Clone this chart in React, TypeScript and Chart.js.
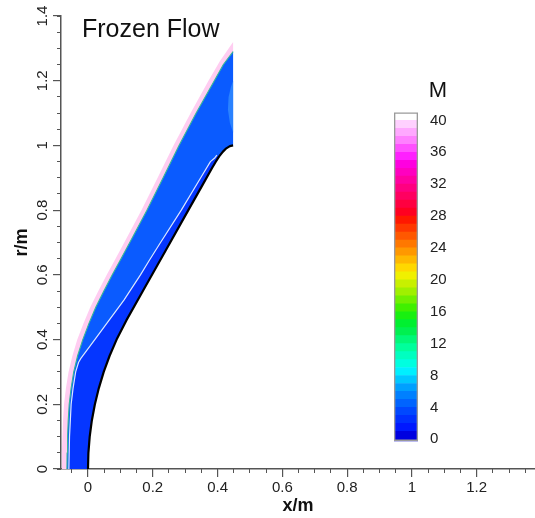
import React, { useEffect, useRef } from 'react';
import { Chart, registerables } from 'chart.js';

Chart.register(...registerables);

const FONT = '"Liberation Sans", Arial, Helvetica, sans-serif';

// ---------- axis ticks ----------
const xMajorTicks = [0, 0.2, 0.4, 0.6, 0.8, 1.0, 1.2];
const xTickLabels = ['0', '0.2', '0.4', '0.6', '0.8', '1', '1.2'];
const yMajorTicks = [0, 0.2, 0.4, 0.6, 0.8, 1.0, 1.2, 1.4];
const yTickLabels = ['0', '0.2', '0.4', '0.6', '0.8', '1', '1.2', '1.4'];
const xMinorTicks = [-0.05, 0, 0.05, 0.1, 0.15, 0.2, 0.25, 0.3, 0.35, 0.4, 0.45, 0.5, 0.55, 0.6, 0.65, 0.7, 0.75, 0.8, 0.85, 0.9, 0.95, 1.0, 1.05, 1.1, 1.15, 1.2, 1.25, 1.3, 1.35];
const yMinorTicks = [0, 0.05, 0.1, 0.15, 0.2, 0.25, 0.3, 0.35, 0.4, 0.45, 0.5, 0.55, 0.6, 0.65, 0.7, 0.75, 0.8, 0.85, 0.9, 0.95, 1.0, 1.05, 1.1, 1.15, 1.2, 1.25, 1.3, 1.35, 1.4];
const X_MIN = -0.0833;
const X_MAX = 1.38;
const Y_MIN = 0;
const Y_MAX = 1.4;

// ---------- flow field geometry (x/m, r/m) ----------
// outer edge of the pink shock band
const pinkX = [-0.081, -0.0805, -0.079, -0.077, -0.074, -0.068, -0.060, -0.048, -0.033, -0.014, 0.007, 0.032, 0.058, 0.085, 0.112, 0.165, 0.215, 0.264, 0.317, 0.372, 0.407, 0.448];
const pinkR = [0, 0.05, 0.1, 0.15, 0.2, 0.25, 0.3, 0.35, 0.4, 0.45, 0.5, 0.55, 0.6, 0.65, 0.7, 0.8, 0.9, 1.0, 1.1, 1.2, 1.26, 1.32];
// shock (edge of the blue shock layer)
const shockX = [-0.065, -0.0645, -0.063, -0.061, -0.058, -0.052, -0.044, -0.032, -0.016, 0.003, 0.024, 0.049, 0.075, 0.102, 0.129, 0.182, 0.232, 0.281, 0.334, 0.390, 0.418, 0.448];
const shockR = [0, 0.05, 0.1, 0.15, 0.2, 0.25, 0.3, 0.35, 0.4, 0.45, 0.5, 0.55, 0.6, 0.65, 0.7, 0.8, 0.9, 1.0, 1.1, 1.2, 1.25, 1.29];
// body wall (spherical nose, cone, rounded shoulder)
const bodyX = [0, 0.0013, 0.0053, 0.0119, 0.0213, 0.0335, 0.0486, 0.0668, 0.0883, 0.1188, 0.1694, 0.2407, 0.3098, 0.3503, 0.383, 0.394, 0.405, 0.416, 0.427, 0.438, 0.448];
const bodyR = [0, 0.05, 0.1, 0.15, 0.2, 0.25, 0.3, 0.35, 0.4, 0.46, 0.55, 0.677, 0.8, 0.872, 0.93, 0.949, 0.966, 0.98, 0.991, 0.998, 1.0];
// white contour line inside the shock layer
const lineX = [-0.059, -0.057, -0.052, -0.046, -0.038, -0.029, -0.022, 0.021, 0.058, 0.111, 0.162, 0.190, 0.224, 0.288, 0.348, 0.378, 0.392, 0.398];
const lineR = [0, 0.1, 0.2, 0.25, 0.3, 0.33, 0.342, 0.4, 0.45, 0.522, 0.6, 0.646, 0.7, 0.8, 0.9, 0.95, 0.962, 0.97];
// lighter pocket near the base
const pocketX = [0.448, 0.438, 0.432, 0.434, 0.441, 0.448];
const pocketR = [1.04, 1.07, 1.11, 1.15, 1.18, 1.2];

// ---------- colour bar ----------
const cbLevels = [-0.2, 1, 2, 3, 4, 5, 6, 7, 8, 9, 10, 11, 12, 13, 14, 15, 16, 17, 18, 19, 20, 21, 22, 23, 24, 25, 26, 27, 28, 29, 30, 31, 32, 33, 34, 35, 36, 37, 38, 39, 40, 41];
const cbColors = [
  '#0000e0', '#0018ff', '#0030ff', '#0048ff', '#0064ff', '#0080ff', '#00a0ff', '#00c8ff',
  '#00f0ff', '#00ffe0', '#00ffc0', '#00ff9c', '#00f878', '#00f050', '#00f030', '#18f010',
  '#40f000', '#70f000', '#a0f000', '#c8f000', '#f0f000', '#ffd800', '#ffb800', '#ff9800',
  '#ff7800', '#ff5800', '#ff3800', '#ff1800', '#ff0020', '#ff0040', '#ff0060', '#ff0080',
  '#ff00a0', '#ff00c0', '#ff00e0', '#ff20ff', '#ff50ff', '#ff80ff', '#ffa8ff', '#ffd0ff',
  '#ffffff',
];
const cbTicks = [0, 4, 8, 12, 16, 20, 24, 28, 32, 36, 40];
const cbTickLabels = ['0', '4', '8', '12', '16', '20', '24', '28', '32', '36', '40'];

const toPts = (xs: number[], rs: number[]) => xs.map((x, i) => ({ x, y: rs[i] }));

export default function App() {
  const mainRef = useRef<HTMLCanvasElement>(null);
  const cbRef = useRef<HTMLCanvasElement>(null);

  useEffect(() => {
    Chart.defaults.font.family = FONT;
    Chart.defaults.color = '#222';

    const pink = toPts(pinkX, pinkR);
    const shock = toPts(shockX, shockR);
    const body = toPts(bodyX, bodyR);
    const line = toPts(lineX, lineR);
    const pocket = toPts(pocketX, pocketR);
    const lineEnd = line[line.length - 1];

    const close = (p: { x: number; y: number }[]) => [...p, p[0]];
    const pinkPoly = close([...pink, ...[...shock].reverse()]);
    const bluePoly = close([...shock, ...[...body].reverse()]);
    const darkPoly = close([...line, ...body.filter((p) => p.y <= lineEnd.y).reverse()]);
    const pocketPoly = close(pocket);

    const fillDs = (data: any[], color: string) => ({
      data,
      showLine: true,
      fill: 'shape',
      backgroundColor: color,
      borderWidth: 0,
      borderColor: 'rgba(0,0,0,0)',
      pointRadius: 0,
      xAxisID: 'x',
      yAxisID: 'y',
    });
    const lineDs = (data: any[], color: string, width: number) => ({
      data,
      showLine: true,
      fill: false,
      borderColor: color,
      borderWidth: width,
      borderJoinStyle: 'round',
      pointRadius: 0,
      xAxisID: 'x',
      yAxisID: 'y',
    });

    const main = new Chart(mainRef.current!, {
      type: 'line',
      data: {
        datasets: [
          lineDs(line, '#dce8ff', 1.2),
          lineDs(body, '#000000', 2.2),
          lineDs(shock, '#35b896', 1.1),
          fillDs(pocketPoly, '#2a82ff'),
          fillDs(darkPoly, '#0536ff'),
          fillDs(bluePoly, '#0a5bff'),
          fillDs(pinkPoly, '#ffcdf1'),
        ] as any,
      },
      options: {
        responsive: false,
        maintainAspectRatio: false,
        animation: false,
        events: [],
        layout: { padding: { top: 16, left: 0, right: 0, bottom: 0 } },
        plugins: { legend: { display: false }, tooltip: { enabled: false }, title: { display: false } },
        scales: {
          x: {
            type: 'linear',
            position: 'bottom',
            weight: 1,
            min: X_MIN,
            max: X_MAX,
            afterBuildTicks: (s: any) => { s.ticks = xMajorTicks.map((v) => ({ value: v })); },
            afterFit: (s: any) => { s.height = 49; s.paddingLeft = 0; s.paddingRight = 0; },
            ticks: {
              autoSkip: false,
              maxRotation: 0,
              minRotation: 0,
              padding: 2,
              color: '#222',
              font: { size: 15 },
              callback: (_v: any, i: number) => xTickLabels[i],
            },
            grid: { drawOnChartArea: false, tickLength: 8, color: '#555', lineWidth: 1.2 },
            border: { display: true, color: '#555', width: 1.5 },
            title: { display: true, text: 'x/m', color: '#111', font: { size: 18, weight: 'bold' }, padding: { top: 0, bottom: 1 } },
          },
          xMinor: {
            type: 'linear',
            position: 'bottom',
            weight: 0,
            min: X_MIN,
            max: X_MAX,
            afterBuildTicks: (s: any) => { s.ticks = xMinorTicks.map((v) => ({ value: v })); },
            afterFit: (s: any) => { s.height = 0; s.paddingLeft = 0; s.paddingRight = 0; },
            ticks: { display: false },
            grid: { drawOnChartArea: false, tickLength: 4, color: '#555', lineWidth: 1 },
            border: { display: false },
          },
          y: {
            type: 'linear',
            position: 'left',
            weight: 1,
            min: Y_MIN,
            max: Y_MAX,
            afterBuildTicks: (s: any) => { s.ticks = yMajorTicks.map((v) => ({ value: v })); },
            afterFit: (s: any) => { s.width = 61; s.paddingTop = 0; s.paddingBottom = 0; },
            ticks: {
              autoSkip: false,
              minRotation: 90,
              maxRotation: 90,
              crossAlign: 'center',
              padding: 0,
              color: '#222',
              font: { size: 15 },
              callback: (_v: any, i: number) => yTickLabels[i],
            },
            grid: { drawOnChartArea: false, tickLength: 8, color: '#555', lineWidth: 1.2 },
            border: { display: true, color: '#555', width: 1.5 },
            title: { display: true, text: 'r/m', color: '#111', font: { size: 18, weight: 'bold' }, padding: { top: 11.5, bottom: 0 } },
          },
          yMinor: {
            type: 'linear',
            position: 'left',
            weight: 0,
            min: Y_MIN,
            max: Y_MAX,
            afterBuildTicks: (s: any) => { s.ticks = yMinorTicks.map((v) => ({ value: v })); },
            afterFit: (s: any) => { s.width = 0; s.paddingTop = 0; s.paddingBottom = 0; },
            ticks: { display: false },
            grid: { drawOnChartArea: false, tickLength: 4, color: '#555', lineWidth: 1 },
            border: { display: false },
          },
        },
      } as any,
    });

    const cbDatasets: any[] = [
      {
        data: [[cbLevels[0], cbLevels[cbLevels.length - 1]]],
        backgroundColor: 'rgba(0,0,0,0)',
        borderColor: '#9a9a9a',
        borderWidth: 1,
        borderSkipped: false,
        grouped: false,
        barPercentage: 1,
        categoryPercentage: 1,
      },
      ...cbColors.map((c, i) => ({
        data: [[cbLevels[i], cbLevels[i + 1]]],
        backgroundColor: c,
        borderWidth: 0,
        grouped: false,
        barPercentage: 1,
        categoryPercentage: 1,
      })),
    ];

    const cb = new Chart(cbRef.current!, {
      type: 'bar',
      data: { labels: ['M'], datasets: cbDatasets },
      options: {
        responsive: false,
        maintainAspectRatio: false,
        animation: false,
        events: [],
        layout: { padding: 0 },
        plugins: {
          legend: { display: false },
          tooltip: { enabled: false },
          title: { display: true, text: 'M', color: '#111', font: { size: 22, weight: 'normal' }, padding: { top: 0, bottom: 8 } },
        },
        scales: {
          x: { display: false },
          y: {
            type: 'linear',
            position: 'right',
            min: -4.48,
            max: 41,
            afterBuildTicks: (s: any) => { s.ticks = cbTicks.map((v) => ({ value: v })); },
            afterFit: (s: any) => { s.width = 64; s.paddingTop = 0; s.paddingBottom = 0; },
            ticks: {
              autoSkip: false,
              padding: 12,
              color: '#222',
              font: { size: 15 },
              callback: (_v: any, i: number) => cbTickLabels[i],
            },
            grid: { display: false, drawTicks: false },
            border: { display: false },
          },
        },
      } as any,
    });

    return () => {
      main.destroy();
      cb.destroy();
    };
  }, []);

  return (
    <div style={{ position: 'fixed', left: 0, top: 0, width: 535, height: 518, background: '#fff', overflow: 'hidden' }}>
      <canvas ref={mainRef} width={535} height={518} style={{ position: 'absolute', left: 0, top: 0, width: 535, height: 518 }} />
      <canvas ref={cbRef} width={88} height={397} style={{ position: 'absolute', left: 394, top: 78, width: 88, height: 397 }} />
      <div style={{ position: 'absolute', left: 82, top: 16, fontFamily: FONT, fontSize: 25, lineHeight: '25px', color: '#111', whiteSpace: 'nowrap' }}>
        Frozen Flow
      </div>
    </div>
  );
}
